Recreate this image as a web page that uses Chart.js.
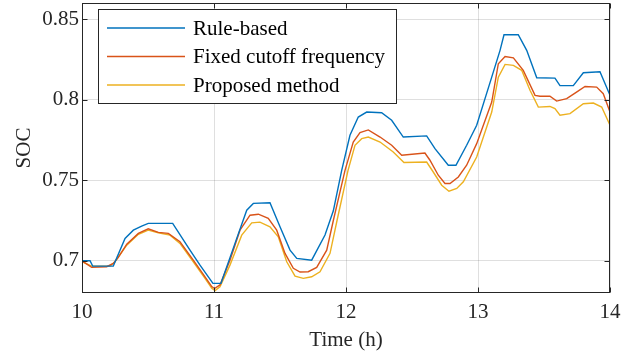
<!DOCTYPE html>
<html>
<head>
<meta charset="utf-8">
<script src="https://cdn.jsdelivr.net/npm/chart.js@4.4.0/dist/chart.umd.min.js"></script>
<style>
  html, body { margin: 0; padding: 0; background: #fff; }
</style>
</head>
<body>
<canvas id="socChart" width="636" height="355"></canvas>
<script>
// tick labels
const timeTicks = [10, 11, 12, 13, 14];
const socTicks = [0.7, 0.75, 0.8, 0.85];

const seriesNames = ['Rule-based', 'Fixed cutoff frequency', 'Proposed method'];

// Rule-based
const ruleTime = [10.000, 10.061, 10.081, 10.237, 10.326, 10.389, 10.452, 10.502, 10.687, 10.818,
    10.894, 10.957, 10.992, 11.053, 11.159, 11.248, 11.298, 11.424, 11.500, 11.576,
    11.627, 11.740, 11.841, 11.904, 11.967, 12.030, 12.093, 12.157, 12.270, 12.346,
    12.434, 12.611, 12.674, 12.775, 12.833, 12.914, 12.990, 13.104, 13.167, 13.197,
    13.305, 13.369, 13.445, 13.583, 13.621, 13.722, 13.798, 13.924, 14.000];
const ruleSoc = [0.7000, 0.7000, 0.6967, 0.6967, 0.7139, 0.7190, 0.7215, 0.7232, 0.7232, 0.7066,
    0.6973, 0.6900, 0.6860, 0.6860, 0.7108, 0.7314, 0.7356, 0.7360, 0.7211, 0.7066,
    0.7015, 0.7004, 0.7160, 0.7310, 0.7560, 0.7779, 0.7892, 0.7923, 0.7919, 0.7872,
    0.7768, 0.7775, 0.7696, 0.7593, 0.7593, 0.7717, 0.7841, 0.8140, 0.8306, 0.8403,
    0.8403, 0.8306, 0.8136, 0.8134, 0.8087, 0.8087, 0.8167, 0.8173, 0.8027];

// Fixed cutoff frequency
const fixedTime = [10.000, 10.073, 10.187, 10.237, 10.275, 10.339, 10.427, 10.502, 10.578, 10.654,
    10.742, 10.843, 10.919, 10.983, 11.004, 11.045, 11.121, 11.197, 11.273, 11.336,
    11.411, 11.475, 11.538, 11.601, 11.652, 11.714, 11.778, 11.854, 11.904, 11.992,
    12.055, 12.106, 12.169, 12.258, 12.346, 12.422, 12.598, 12.636, 12.699, 12.750,
    12.788, 12.851, 12.914, 12.990, 13.104, 13.154, 13.205, 13.268, 13.343, 13.432,
    13.470, 13.545, 13.596, 13.672, 13.735, 13.811, 13.899, 13.949, 14.000];
const fixedSoc = [0.7000, 0.6959, 0.6963, 0.6984, 0.7021, 0.7103, 0.7170, 0.7198, 0.7176, 0.7170,
    0.7118, 0.7004, 0.6916, 0.6840, 0.6828, 0.6850, 0.7004, 0.7190, 0.7283, 0.7289,
    0.7263, 0.7190, 0.7046, 0.6953, 0.6930, 0.6932, 0.6959, 0.7066, 0.7250, 0.7560,
    0.7737, 0.7796, 0.7812, 0.7768, 0.7717, 0.7655, 0.7669, 0.7624, 0.7531, 0.7480,
    0.7480, 0.7520, 0.7593, 0.7727, 0.7985, 0.8223, 0.8268, 0.8260, 0.8182, 0.8027,
    0.8021, 0.8022, 0.7991, 0.8006, 0.8041, 0.8082, 0.8078, 0.8037, 0.7923];

// Proposed method
const propTime = [10.000, 10.073, 10.212, 10.250, 10.339, 10.427, 10.502, 10.578, 10.667, 10.742,
    10.843, 10.932, 10.983, 11.008, 11.045, 11.121, 11.210, 11.286, 11.348, 11.424,
    11.487, 11.551, 11.614, 11.677, 11.740, 11.803, 11.879, 11.932, 12.015, 12.068,
    12.119, 12.169, 12.258, 12.358, 12.439, 12.611, 12.661, 12.725, 12.780, 12.839,
    12.889, 12.990, 13.104, 13.154, 13.205, 13.268, 13.331, 13.394, 13.457, 13.545,
    13.583, 13.621, 13.697, 13.798, 13.874, 13.937, 14.000];
const propSoc = [0.6994, 0.6967, 0.6967, 0.6994, 0.7097, 0.7164, 0.7190, 0.7174, 0.7159, 0.7108,
    0.6994, 0.6891, 0.6829, 0.6815, 0.6839, 0.6973, 0.7159, 0.7235, 0.7240, 0.7211,
    0.7149, 0.6994, 0.6905, 0.6891, 0.6901, 0.6932, 0.7046, 0.7250, 0.7560, 0.7717,
    0.7758, 0.7768, 0.7737, 0.7675, 0.7610, 0.7613, 0.7551, 0.7469, 0.7432, 0.7449,
    0.7490, 0.7644, 0.7923, 0.8140, 0.8219, 0.8213, 0.8182, 0.8058, 0.7954, 0.7958,
    0.7944, 0.7903, 0.7913, 0.7975, 0.7979, 0.7954, 0.7841];

const colors = ['#0072BD', '#D95319', '#EDB120'];
const axisColor = '#262626';
const fontFamily = '"Liberation Serif", "Times New Roman", serif';

function toPoints(xs, ys) {
    return xs.map(function (t, i) { return { x: t, y: ys[i] }; });
}

// box, inward ticks and the legend inside the plot
const framePlugin = {
    id: 'frame',
    afterDatasetsDraw(chart) {
        const ctx = chart.ctx;
        const a = chart.chartArea;
        const xs = chart.scales.x;
        const ys = chart.scales.y;
        const L = Math.round(a.left) + 0.5, R = Math.round(a.right) - 0.5;
        const T = Math.round(a.top) + 0.5, B = Math.round(a.bottom) - 0.5;

        ctx.save();
        ctx.strokeStyle = axisColor;
        ctx.lineWidth = 1;
        ctx.strokeRect(L, T, R - L, B - T);

        ctx.beginPath();
        timeTicks.forEach(function (t) {
            const px = Math.round(xs.getPixelForValue(t)) + 0.5;
            ctx.moveTo(px, B); ctx.lineTo(px, B - 5);
            ctx.moveTo(px, T); ctx.lineTo(px, T + 5);
        });
        socTicks.forEach(function (v) {
            const py = Math.round(ys.getPixelForValue(v)) + 0.5;
            ctx.moveTo(L, py); ctx.lineTo(L + 5, py);
            ctx.moveTo(R, py); ctx.lineTo(R - 5, py);
        });
        ctx.stroke();

        // legend
        const bx = 98.5, by = 9.5, bw = 298, bh = 94;
        ctx.fillStyle = '#ffffff';
        ctx.fillRect(bx, by, bw, bh);
        ctx.strokeStyle = axisColor;
        ctx.strokeRect(bx, by, bw, bh);

        const rows = [28, 56.5, 85];
        ctx.font = '21px ' + fontFamily;
        ctx.textBaseline = 'middle';
        ctx.textAlign = 'left';
        chart.data.datasets.forEach(function (ds, i) {
            ctx.strokeStyle = ds.borderColor;
            ctx.lineWidth = 1.3;
            ctx.beginPath();
            ctx.moveTo(107, rows[i]);
            ctx.lineTo(185, rows[i]);
            ctx.stroke();
            ctx.fillStyle = '#000000';
            ctx.fillText(ds.label, 193, rows[i] + 1);
        });
        ctx.restore();
    }
};

const socCtx = document.getElementById('socChart').getContext('2d');

new Chart(socCtx, {
    type: 'line',
    data: {
        datasets: [
            { label: seriesNames[0], data: toPoints(ruleTime, ruleSoc), borderColor: colors[0] },
            { label: seriesNames[1], data: toPoints(fixedTime, fixedSoc), borderColor: colors[1] },
            { label: seriesNames[2], data: toPoints(propTime, propSoc), borderColor: colors[2] }
        ]
    },
    options: {
        responsive: false,
        animation: false,
        devicePixelRatio: 1,
        layout: { padding: { top: 3, right: 26, left: 0, bottom: 0 } },
        elements: {
            line: { borderWidth: 1.4, tension: 0, fill: false },
            point: { radius: 0 }
        },
        plugins: {
            legend: { display: false },
            tooltip: { enabled: false }
        },
        scales: {
            x: {
                type: 'linear',
                min: 10,
                max: 14,
                afterBuildTicks: function (scale) {
                    scale.ticks = timeTicks.map(function (v) { return { value: v }; });
                },
                afterFit: function (scale) {
                    scale.height = 62;
                    scale.paddingLeft = 0;
                    scale.paddingRight = 0;
                },
                grid: { color: 'rgba(38,38,38,0.15)', drawTicks: false },
                border: { display: false },
                ticks: {
                    padding: 7,
                    color: axisColor,
                    font: { family: fontFamily, size: 21 },
                    maxRotation: 0
                },
                title: {
                    display: true,
                    text: 'Time (h)',
                    color: axisColor,
                    font: { family: fontFamily, size: 21 },
                    padding: { top: 0, bottom: 2 }
                }
            },
            y: {
                min: 0.68,
                max: 0.86,
                afterBuildTicks: function (scale) {
                    scale.ticks = socTicks.map(function (v) { return { value: v }; });
                },
                afterFit: function (scale) {
                    scale.width = 82;
                    scale.paddingTop = 0;
                    scale.paddingBottom = 0;
                },
                grid: { color: 'rgba(38,38,38,0.15)', drawTicks: false },
                border: { display: false },
                ticks: {
                    padding: 3,
                    color: axisColor,
                    font: { family: fontFamily, size: 21 },
                    callback: function (v) { return String(v); }
                },
                title: {
                    display: true,
                    text: 'SOC',
                    color: axisColor,
                    font: { family: fontFamily, size: 21 },
                    padding: { top: 12, bottom: 0 }
                }
            }
        }
    },
    plugins: [framePlugin]
});
</script>
</body>
</html>
